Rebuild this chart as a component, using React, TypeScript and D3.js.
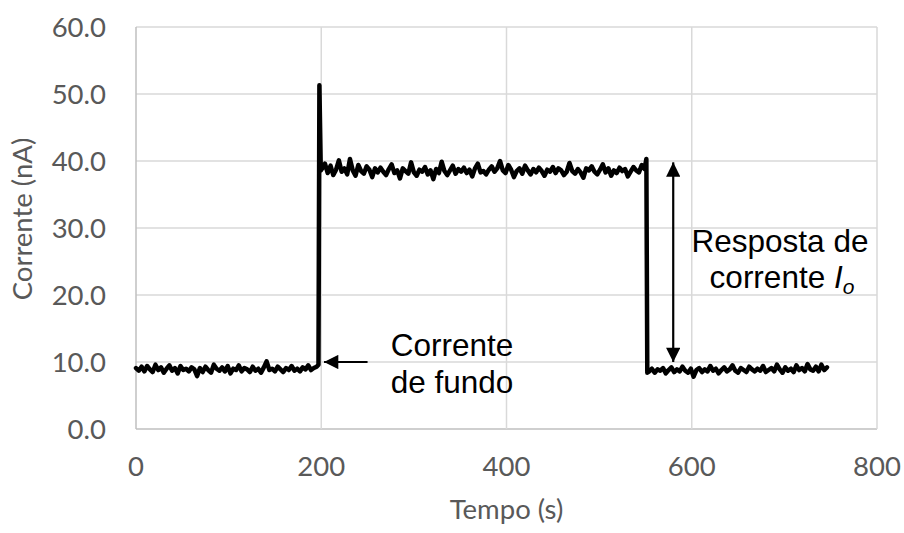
import React, { useRef, useEffect } from "react";
import * as d3 from "d3";

// sampling step (s) of the noisy segments
const STEP = 3;

// background current, t = 0 .. 195 s
const before = [
  9.1, 8.7, 9.3, 8.6, 9.4, 8.9, 8.5, 9.6, 8.8, 9.2, 8.4, 9.0, 9.5, 8.7, 9.1, 8.3, 9.4, 8.8, 9.0, 8.6,
  9.2, 8.9, 7.9, 9.1, 8.5, 9.3, 8.8, 8.4, 9.6, 9.0, 8.7, 9.2, 8.6, 9.4, 8.3, 9.0, 8.8, 9.5, 8.6, 9.1,
  8.9, 8.5, 9.3, 8.7, 9.0, 8.4, 9.2, 10.1, 8.8, 9.0, 8.6, 9.3, 8.9, 8.5, 9.1, 8.8, 9.4, 8.7, 9.0, 8.6,
  9.2, 8.9, 9.5, 8.8, 9.1, 9.3,
];

// rising edge with the spike
const edgeUp: [number, number][] = [
  [197, 9.6],
  [198, 51.3],
  [199.5, 38.6],
];

// response plateau, t = 201 .. 549 s
const plateau = [
  38.9, 39.6, 38.2, 39.3, 37.9, 38.7, 40.1, 38.4, 38.9, 38.0, 40.3, 38.6, 37.8, 39.4, 38.5, 38.1, 39.2, 38.7, 37.6, 38.9,
  38.3, 39.0, 38.4, 37.9, 38.8, 39.5, 38.2, 38.6, 37.4, 38.9, 38.5, 38.1, 39.8, 38.3, 37.8, 38.7, 38.4, 39.1, 38.0, 38.6,
  37.3, 38.8, 38.2, 39.9, 38.5, 37.9, 38.6, 39.3, 38.1, 38.8, 38.4, 39.0, 38.2, 38.7, 37.7, 38.9, 39.6, 38.3, 38.5, 38.0,
  38.7, 39.2, 38.4, 38.9, 40.0, 38.6, 38.2, 39.4, 38.7, 37.6, 38.5, 38.9, 38.1, 39.3, 38.6, 38.0, 38.8, 38.3, 39.0, 38.5,
  37.8, 38.7, 38.4, 39.1, 38.2, 38.9, 38.6, 37.9, 38.4, 39.7, 38.5, 38.1, 38.8, 38.3, 37.5, 38.9, 38.6, 39.2, 38.4, 38.0,
  38.7, 39.5, 38.3, 38.9, 37.8, 38.6, 38.2, 39.0, 38.5, 38.8, 37.7, 38.4, 39.1, 38.6, 38.3, 39.4, 38.8,
];

// falling edge
const edgeDown: [number, number][] = [
  [551, 40.3],
  [552, 8.4],
];

// background after, t = 554 .. 746 s
const after = [
  8.6, 9.0, 8.4, 8.9, 8.7, 9.1, 8.3, 8.8, 9.2, 8.5, 8.9, 8.6, 9.3, 8.7, 8.4, 9.0, 7.8, 8.8, 9.1, 8.5,
  8.9, 8.6, 9.4, 8.7, 9.0, 8.3, 8.8, 9.2, 8.6, 8.9, 9.5, 8.7, 8.4, 9.1, 8.8, 8.5, 9.3, 8.9, 8.6, 9.0,
  8.7, 9.4, 8.5, 8.8, 9.1, 8.6, 9.6, 8.9, 8.4, 9.2, 8.7, 9.0, 8.5, 9.5, 8.8, 9.1, 8.6, 9.7, 8.9, 8.7,
  9.3, 8.6, 9.6, 8.8, 9.2,
];

const xTicks = [0, 200, 400, 600, 800];
const yTicks = [0, 10, 20, 30, 40, 50, 60];

export default function App() {
  const svgRef = useRef<SVGSVGElement>(null);

  useEffect(() => {
    const svg = d3.select(svgRef.current);
    svg.selectAll("*").remove();
    const left = 136,
      right = 877,
      top = 27,
      bottom = 429;

    const x = d3.scaleLinear().domain([0, 800]).range([left, right]);
    const y = d3.scaleLinear().domain([0, 60]).range([bottom, top]);

    const data: [number, number][] = [
      ...before.map((v, i) => [i * STEP, v] as [number, number]),
      ...edgeUp,
      ...plateau.map((v, i) => [201 + i * STEP, v] as [number, number]),
      ...edgeDown,
      ...after.map((v, i) => [554 + i * STEP, v] as [number, number]),
    ];

    const tickFont = "Lato, Carlito, Calibri, sans-serif";
    const noteFont = "'Liberation Sans', Arial, sans-serif";
    const tickSize = 27.5;

    // grid
    svg.append("g")
      .selectAll("line")
      .data(yTicks)
      .join("line")
      .attr("x1", left)
      .attr("x2", right)
      .attr("y1", (d) => y(d))
      .attr("y2", (d) => y(d))
      .attr("stroke", (d) => (d === 0 ? "#bfbfbf" : "#d9d9d9"))
      .attr("stroke-width", 1.5);
    svg.append("g")
      .selectAll("line")
      .data(xTicks)
      .join("line")
      .attr("y1", top)
      .attr("y2", bottom)
      .attr("x1", (d) => x(d))
      .attr("x2", (d) => x(d))
      .attr("stroke", (d) => (d === 0 ? "#bfbfbf" : "#d9d9d9"))
      .attr("stroke-width", 1.5);

    // tick labels
    svg.append("g")
      .selectAll("text")
      .data(yTicks)
      .join("text")
      .attr("x", 106)
      .attr("y", (d) => y(d))
      .attr("dy", "0.36em")
      .attr("text-anchor", "end")
      .attr("font-family", tickFont)
      .attr("font-size", tickSize)
      .attr("fill", "#595959")
      .text((d) => d3.format(".1f")(d));
    svg.append("g")
      .selectAll("text")
      .data(xTicks)
      .join("text")
      .attr("x", (d) => x(d))
      .attr("y", 466)
      .attr("dy", "0.36em")
      .attr("text-anchor", "middle")
      .attr("font-family", tickFont)
      .attr("font-size", tickSize)
      .attr("fill", "#595959")
      .text((d) => d);

    // axis titles
    svg.append("text")
      .attr("x", (left + right) / 2)
      .attr("y", 509)
      .attr("dy", "0.36em")
      .attr("text-anchor", "middle")
      .attr("font-family", tickFont)
      .attr("font-size", tickSize)
      .attr("fill", "#595959")
      .text("Tempo (s)");
    svg.append("text")
      .attr("transform", `translate(22,${(top + bottom) / 2 - 9}) rotate(-90)`)
      .attr("dy", "0.36em")
      .attr("text-anchor", "middle")
      .attr("font-family", tickFont)
      .attr("font-size", tickSize)
      .attr("fill", "#595959")
      .text("Corrente (nA)");

    // signal
    const line = d3
      .line<[number, number]>()
      .x((d) => x(d[0]))
      .y((d) => y(d[1]));
    svg.append("path")
      .datum(data)
      .attr("fill", "none")
      .attr("stroke", "#000")
      .attr("stroke-width", 4.5)
      .attr("stroke-linejoin", "round")
      .attr("stroke-linecap", "round")
      .attr("d", line);

    // arrow heads
    const defs = svg.append("defs");
    defs.append("marker")
      .attr("id", "head")
      .attr("viewBox", "0 0 10 10")
      .attr("refX", 10)
      .attr("refY", 5)
      .attr("markerWidth", 7)
      .attr("markerHeight", 6.5)
      .attr("orient", "auto-start-reverse")
      .attr("markerUnits", "strokeWidth")
      .append("path")
      .attr("d", "M0,0 L10,5 L0,10 Z")
      .attr("fill", "#000");

    // background current arrow
    svg.append("line")
      .attr("x1", x(250))
      .attr("x2", x(203))
      .attr("y1", y(10))
      .attr("y2", y(10))
      .attr("stroke", "#000")
      .attr("stroke-width", 2.2)
      .attr("marker-end", "url(#head)");

    // response arrow
    svg.append("line")
      .attr("x1", x(580))
      .attr("x2", x(580))
      .attr("y1", y(39.8))
      .attr("y2", y(10))
      .attr("stroke", "#000")
      .attr("stroke-width", 2.2)
      .attr("marker-start", "url(#head)")
      .attr("marker-end", "url(#head)");

    const note = svg.append("g")
      .attr("font-family", noteFont)
      .attr("font-size", 31.5)
      .attr("fill", "#000")
      .attr("text-anchor", "middle");
    note.append("text").attr("x", 452).attr("y", 356).text("Corrente");
    note.append("text").attr("x", 452).attr("y", 393).text("de fundo");
    note.append("text").attr("x", 780).attr("y", 252).text("Resposta de");
    const io = note.append("text").attr("x", 782).attr("y", 288);
    io.append("tspan").text("corrente ");
    io.append("tspan").attr("font-style", "italic").text("I");
    io.append("tspan")
      .attr("font-style", "italic")
      .attr("font-size", 21)
      .attr("dy", 6)
      .text("o");
  }, []);

  return (
    <svg
      ref={svgRef}
      width={904}
      height={533}
      style={{ position: "absolute", left: 0, top: 0, background: "#fff" }}
    ></svg>
  );
}
